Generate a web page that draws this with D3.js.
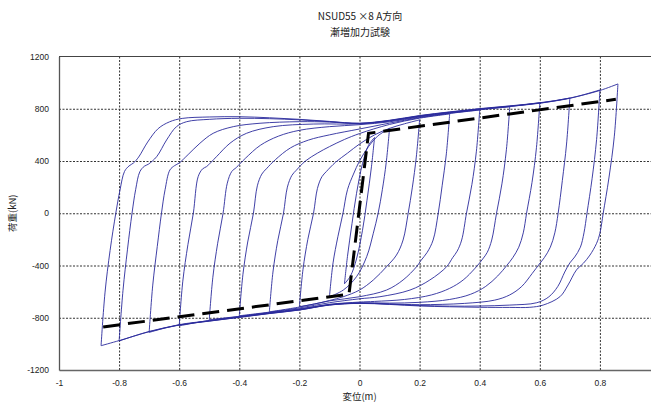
<!DOCTYPE html>
<html>
<head>
<meta charset="utf-8">
<script src="https://cdn.jsdelivr.net/npm/d3@7"></script>
<style>
  body { margin: 0; background: #fff; }
  svg { display: block; }
  text { font-family: "Liberation Sans", "Noto Sans CJK JP", sans-serif; }
</style>
</head>
<body>
<script>
const width = 651, height = 403;

// axis ticks (x = 1 falls outside the window)
const xTicks = [-1, -0.8, -0.6, -0.4, -0.2, 0, 0.2, 0.4, 0.6, 0.8];
const yTicks = [-1200, -800, -400, 0, 400, 800, 1200];
const titleLines = ["NSUD55 ×8  A方向", "漸増加力試験"];

// hysteresis loops, [disp(m), load(kN)], up = loading branch, dn = unloading branch
const up086 = [[-0.86,-1014],[-0.847,-610],[-0.83,-285],[-0.811,0],[-0.797,178],[-0.782,320],[-0.767,362],[-0.752,385],[-0.735,430],[-0.705,545],[-0.67,648],[-0.632,700],[-0.59,726],[-0.5,737],[-0.4,739],[-0.3,731],[-0.2,719],[-0.1,703],[0,689],[0.1,712],[0.2,748],[0.3,776],[0.4,801],[0.5,822],[0.6,846],[0.7,882],[0.8,940],[0.86,990]];
const dn086 = [[0.86,990],[0.848,590],[0.83,270],[0.811,0],[0.8,-153],[0.789,-230],[0.767,-320],[0.745,-383],[0.722,-434],[0.694,-549],[0.667,-639],[0.611,-703],[0.567,-720],[0.5,-721],[0.4,-720],[0.3,-716],[0.2,-710],[0.1,-698],[0,-690],[-0.1,-703],[-0.2,-741],[-0.3,-768],[-0.4,-797],[-0.5,-826],[-0.6,-856],[-0.7,-907],[-0.8,-975],[-0.86,-1014]];
const up080 = [[-0.8,-978],[-0.787,-590],[-0.772,-275],[-0.757,0],[-0.745,180],[-0.731,318],[-0.716,360],[-0.703,375],[-0.675,433],[-0.642,561],[-0.609,663],[-0.575,701],[-0.5,719],[-0.4,727],[-0.3,724],[-0.2,715],[-0.1,701],[0,688],[0.1,710],[0.2,746],[0.3,774],[0.4,799],[0.5,820],[0.6,844],[0.7,880],[0.8,944]];
const dn080 = [[0.8,944],[0.789,565],[0.774,265],[0.757,0],[0.747,-150],[0.735,-260],[0.716,-335],[0.7,-380],[0.683,-450],[0.66,-560],[0.63,-640],[0.59,-685],[0.5,-703],[0.4,-710],[0.3,-711],[0.2,-706],[0.1,-696],[0,-689],[-0.1,-702],[-0.2,-740],[-0.3,-767],[-0.4,-796],[-0.5,-825],[-0.6,-855],[-0.7,-905],[-0.8,-978]];
const up070 = [[-0.7,-912],[-0.688,-550],[-0.673,-255],[-0.659,0],[-0.647,180],[-0.631,331],[-0.615,365],[-0.6,385],[-0.57,450],[-0.531,536],[-0.487,612],[-0.42,663],[-0.331,689],[-0.2,701],[-0.1,698],[0,687],[0.1,708],[0.2,744],[0.3,772],[0.4,797],[0.5,818],[0.6,842],[0.7,882]];
const dn070 = [[0.7,882],[0.689,530],[0.675,250],[0.661,0],[0.65,-150],[0.635,-260],[0.615,-340],[0.598,-390],[0.575,-460],[0.54,-560],[0.5,-625],[0.45,-665],[0.35,-690],[0.2,-700],[0.1,-694],[0,-688],[-0.1,-701],[-0.2,-738],[-0.3,-765],[-0.4,-794],[-0.5,-823],[-0.6,-853],[-0.7,-912]];
const up060 = [[-0.6,-862],[-0.588,-520],[-0.571,-240],[-0.553,0],[-0.537,280],[-0.522,340],[-0.509,357],[-0.476,433],[-0.431,536],[-0.376,612],[-0.287,663],[-0.154,683],[0,684],[0.1,705],[0.2,741],[0.3,769],[0.4,795],[0.5,817],[0.6,846]];
const dn060 = [[0.6,846],[0.589,505],[0.574,235],[0.556,0],[0.545,-150],[0.53,-260],[0.51,-340],[0.49,-400],[0.46,-480],[0.42,-560],[0.37,-620],[0.3,-660],[0.2,-682],[0.1,-688],[0,-685],[-0.1,-699],[-0.2,-735],[-0.3,-762],[-0.4,-791],[-0.5,-820],[-0.6,-862]];
const up050 = [[-0.5,-815],[-0.488,-490],[-0.472,-230],[-0.454,0],[-0.44,230],[-0.425,320],[-0.41,350],[-0.38,420],[-0.33,520],[-0.27,590],[-0.2,635],[-0.1,663],[0,678],[0.1,700],[0.2,737],[0.3,766],[0.4,792],[0.5,815]];
const dn050 = [[0.5,815],[0.489,490],[0.474,225],[0.456,0],[0.44,-205],[0.425,-300],[0.41,-350],[0.385,-420],[0.345,-511],[0.3,-575],[0.24,-625],[0.15,-660],[0.05,-675],[0,-680],[-0.1,-697],[-0.2,-732],[-0.3,-760],[-0.4,-789],[-0.5,-815]];
const up040 = [[-0.4,-785],[-0.388,-470],[-0.372,-220],[-0.353,0],[-0.34,210],[-0.325,300],[-0.31,340],[-0.28,410],[-0.23,500],[-0.17,560],[-0.1,600],[0,645],[0.1,690],[0.2,732],[0.3,764],[0.4,790]];
const dn040 = [[0.4,790],[0.389,475],[0.374,220],[0.356,0],[0.34,-205],[0.325,-290],[0.31,-340],[0.29,-409],[0.234,-511],[0.168,-588],[0.068,-639],[0,-655],[-0.1,-685],[-0.2,-725],[-0.3,-757],[-0.4,-785]];
const up030 = [[-0.3,-755],[-0.288,-450],[-0.272,-210],[-0.253,0],[-0.24,200],[-0.225,290],[-0.21,330],[-0.18,400],[-0.14,460],[-0.1,510],[-0.05,565],[0,610],[0.1,680],[0.2,728],[0.3,760]];
const dn030 = [[0.3,760],[0.289,455],[0.275,210],[0.262,0],[0.245,-205],[0.225,-300],[0.205,-360],[0.19,-409],[0.145,-511],[0.09,-588],[0,-639],[-0.098,-670],[-0.2,-718],[-0.3,-755]];
const up020 = [[-0.2,-715],[-0.188,-430],[-0.172,-200],[-0.153,0],[-0.14,190],[-0.125,280],[-0.11,320],[-0.08,390],[-0.04,460],[0,530],[0.05,600],[0.1,650],[0.15,685],[0.2,715]];
const dn020 = [[0.2,715],[0.189,430],[0.176,200],[0.162,0],[0.145,-205],[0.123,-320],[0.09,-409],[0.046,-511],[0,-588],[-0.054,-639],[-0.1,-668],[-0.15,-695],[-0.2,-715]];
const up010 = [[-0.1,-640],[-0.088,-380],[-0.072,-180],[-0.055,0],[-0.04,180],[-0.02,300],[0,400],[0.03,510],[0.06,590],[0.1,650]];
const dn010 = [[0.1,650],[0.089,390],[0.076,180],[0.062,0],[0.046,-153],[0.024,-332],[-0.01,-486],[-0.054,-588],[-0.1,-640]];
const up005 = [[-0.05,-540],[-0.04,-330],[-0.025,-80],[-0.01,150],[0.01,380],[0.03,520],[0.05,580]];
const dn005 = [[0.05,580],[0.04,360],[0.025,100],[0.01,-130],[-0.01,-350],[-0.03,-480],[-0.05,-540]];

// bilinear model (dashed)
const modelDisp = [-0.853, -0.035, 0.03, 0.853];
const modelLoad = [-870, -620, 612, 872];

const branches = [up086, dn086, up080, dn080, up070, dn070, up060, dn060, up050, dn050,
  up040, dn040, up030, dn030, up020, dn020, up010, dn010, up005, dn005];

const svg = d3.select("body").append("svg")
    .attr("width", width)
    .attr("height", height);

const x = d3.scaleLinear().domain([-1, 1]).range([59, 660]);
const y = d3.scaleLinear().domain([-1200, 1200]).range([370, 56.5]);

// grid
svg.append("g")
    .attr("transform", `translate(0,${y(-1200)})`)
    .call(d3.axisBottom(x).tickValues(xTicks.filter(d => d > -1)).tickSize(-(y(-1200) - y(1200))).tickFormat(""))
    .call(g => g.select(".domain").remove())
    .call(g => g.selectAll("line").attr("stroke", "#333").attr("stroke-dasharray", "2,1.5"));
svg.append("g")
    .attr("transform", `translate(${x(-1)},0)`)
    .call(d3.axisLeft(y).tickValues(yTicks.filter(d => d > -1200 && d < 1200)).tickSize(-(x(1) - x(-1))).tickFormat(""))
    .call(g => g.select(".domain").remove())
    .call(g => g.selectAll("line").attr("stroke", "#333").attr("stroke-dasharray", "2,1.5"));

// frame
svg.append("line").attr("x1", x(-1)).attr("x2", x(1)).attr("y1", y(1200)).attr("y2", y(1200))
    .attr("stroke", "#444").attr("stroke-width", 1.2);

// loops
const line = d3.line()
    .x(d => x(d[0]))
    .y(d => y(d[1]))
    .curve(d3.curveCatmullRom.alpha(0.5));

svg.append("g")
    .attr("fill", "none")
    .attr("stroke", "#2a2a9c")
    .attr("stroke-width", 0.9)
  .selectAll("path")
  .data(branches)
  .join("path")
    .attr("d", line);

// model
svg.append("path")
    .datum(modelDisp.map((d, i) => [d, modelLoad[i]]))
    .attr("fill", "none")
    .attr("stroke", "#000")
    .attr("stroke-width", 3)
    .attr("stroke-dasharray", "17,8")
    .attr("d", d3.line().x(d => x(d[0])).y(d => y(d[1])));

// axes
const fmt = d => String(d);
svg.append("g")
    .attr("transform", `translate(0,${y(-1200)})`)
    .call(d3.axisBottom(x).tickValues(xTicks).tickSize(0).tickPadding(10).tickFormat(fmt))
    .call(g => g.select(".domain").attr("stroke", "#666").attr("stroke-width", 1.3))
    .call(g => g.selectAll("text").attr("font-size", 8.5).attr("fill", "#222"));
svg.append("g")
    .attr("transform", `translate(${x(-1)},0)`)
    .call(d3.axisLeft(y).tickValues(yTicks).tickSize(0).tickPadding(10).tickFormat(fmt))
    .call(g => g.select(".domain").attr("stroke", "#555").attr("stroke-width", 1.3))
    .call(g => g.selectAll("text").attr("font-size", 8.5).attr("fill", "#222"));

// titles
svg.append("g")
    .selectAll("text")
    .data(titleLines)
    .join("text")
    .attr("x", 360)
    .attr("y", (d, i) => 20 + i * 16)
    .attr("text-anchor", "middle")
    .attr("font-size", 10)
    .attr("fill", "#222")
    .style("font-family", "'Noto Sans CJK JP', sans-serif")
    .text(d => d);

svg.append("text")
    .attr("transform", `translate(16,${y(0)}) rotate(-90)`)
    .attr("text-anchor", "middle")
    .attr("font-size", 9.5)
    .attr("fill", "#222")
    .style("font-family", "'Noto Sans CJK JP', sans-serif")
    .text("荷重(kN)");

svg.append("text")
    .attr("x", x(0))
    .attr("y", 400)
    .attr("text-anchor", "middle")
    .attr("font-size", 9.5)
    .attr("fill", "#222")
    .style("font-family", "'Noto Sans CJK JP', sans-serif")
    .text("変位(m)");
</script>
</body>
</html>
